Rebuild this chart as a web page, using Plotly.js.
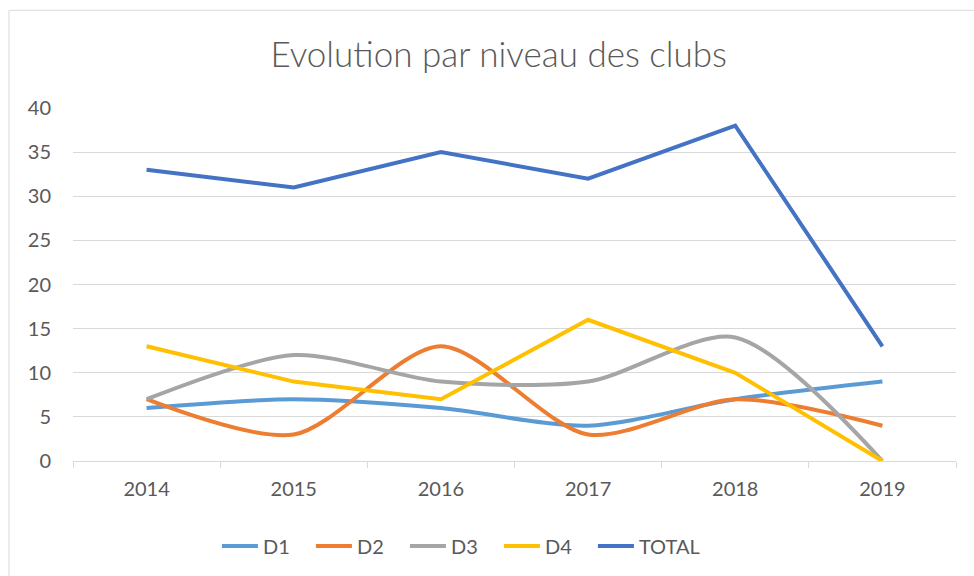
<!DOCTYPE html>
<html><head><meta charset="utf-8">
<script src="https://cdn.plot.ly/plotly-3.0.1.min.js"></script>
<style>html,body{margin:0;padding:0;background:#fff}#chart{width:974px;height:576px}</style>
</head><body><div id="chart"></div>
<script>
const years = ['2014','2015','2016','2017','2018','2019'];
const d1 = [6, 7, 6, 4, 7, 9];
const d2 = [7, 3, 13, 3, 7, 4];
const d3 = [7, 12, 9, 9, 14, 0];
const d4 = [13, 9, 7, 16, 10, 0];
const total = [33, 31, 35, 32, 38, 13];
const names = ['D1','D2','D3','D4','TOTAL'];
const colors = ['#5B9BD5','#ED7D31','#A5A5A5','#FFC000','#4472C4'];
const shapesLine = ['spline','spline','spline','linear','linear'];
const series = [d1, d2, d3, d4, total];

const FONT = 'Lato, "Open Sans", sans-serif';
const traces = series.map((v, i) => ({
  x: years, y: v, name: names[i], type: 'scatter', mode: 'lines',
  legendwidth: i < 4 ? 43 : 80,
  line: {color: colors[i], width: 4, shape: shapesLine[i], smoothing: 0.8}
}));

const layout = {
  width: 974, height: 576,
  margin: {l: 73, r: 18, t: 108, b: 114},
  paper_bgcolor: '#fff', plot_bgcolor: '#fff',
  font: {family: FONT, color: '#595959', size: 20},
  title: {text: 'Evolution par niveau des clubs', x: 0.512, xanchor: 'center', y: 0.905, yanchor: 'middle',
          font: {family: FONT, size: 35, weight: 300, color: '#595959'}},
  xaxis: {type: 'category', range: [-0.5, 5.5], showgrid: false, showline: true, linecolor: '#d9d9d9', linewidth: 1,
          ticks: 'outside', tickson: 'boundaries', ticklen: 6, tickcolor: '#d9d9d9', tickwidth: 1,
          tickfont: {size: 20, color: '#595959'}, ticklabelstandoff: 10, zeroline: false, fixedrange: true},
  yaxis: {range: [0, 40], dtick: 5, showgrid: true, gridcolor: '#d9d9d9', gridwidth: 1, zeroline: false,
          showline: false, ticks: '', tickfont: {size: 20, color: '#595959'}, ticklabelstandoff: 21, fixedrange: true},
  legend: {orientation: 'h', x: 0.163, xanchor: 'left', y: -0.237, yanchor: 'middle',
           font: {size: 20, color: '#595959'}, itemwidth: 36,
           tracegroupgap: 0, bgcolor: 'rgba(0,0,0,0)'},
  shapes: [{type: 'rect', xref: 'paper', yref: 'paper', x0: -0.0725, x1: 1.2, y0: -0.6, y1: 1.2768,
            line: {color: '#d9d9d9', width: 1}, fillcolor: 'rgba(0,0,0,0)', layer: 'below'}],
  showlegend: true
};
Plotly.newPlot('chart', traces, layout, {displayModeBar: false, staticPlot: true});
</script></body></html>
